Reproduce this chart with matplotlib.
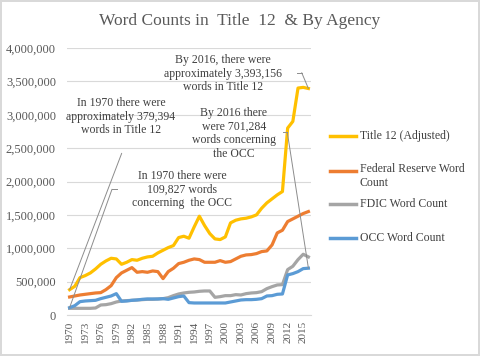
import matplotlib
matplotlib.use('Agg')
import matplotlib.pyplot as plt
from matplotlib.lines import Line2D
from matplotlib.ticker import FuncFormatter

plt.rcParams['font.family'] = 'Liberation Serif'

years = list(range(1970, 2017))
title12 = [379394, 430000, 560000, 590000, 630000, 690000, 760000, 810000, 850000, 840000,
           760000, 790000, 830000, 820000, 850000, 870000, 880000, 930000, 970000, 1010000,
           1040000, 1160000, 1180000, 1150000, 1320000, 1480000, 1340000, 1220000, 1140000, 1130000,
           1170000, 1380000, 1420000, 1440000, 1450000, 1470000, 1500000, 1600000, 1680000, 1740000,
           1800000, 1850000, 2800000, 2900000, 3400000, 3410000, 3393156]
fed = [270000, 285000, 300000, 310000, 320000, 330000, 335000, 380000, 440000, 560000,
       630000, 670000, 710000, 640000, 650000, 640000, 660000, 650000, 545000, 650000,
       700000, 770000, 790000, 820000, 840000, 830000, 790000, 790000, 790000, 815000,
       790000, 800000, 840000, 880000, 900000, 905000, 920000, 950000, 960000, 1050000,
       1230000, 1270000, 1400000, 1440000, 1480000, 1520000, 1550000]
fdic = [100000, 100000, 100000, 100000, 100000, 105000, 150000, 155000, 170000, 195000,
        210000, 215000, 220000, 225000, 230000, 235000, 235000, 240000, 245000, 260000,
        290000, 315000, 330000, 340000, 345000, 355000, 360000, 360000, 265000, 275000,
        290000, 290000, 305000, 300000, 320000, 330000, 335000, 350000, 395000, 425000,
        450000, 455000, 680000, 730000, 830000, 910000, 870000]
occ = [109827, 140000, 200000, 210000, 215000, 220000, 245000, 265000, 285000, 320000,
       205000, 210000, 220000, 225000, 235000, 240000, 240000, 240000, 245000, 235000,
       255000, 275000, 285000, 185000, 180000, 180000, 180000, 180000, 180000, 180000,
       180000, 195000, 210000, 225000, 230000, 230000, 235000, 245000, 285000, 290000,
       310000, 315000, 600000, 620000, 650000, 695000, 701284]

labels = ['Title 12 (Adjusted)', 'Federal Reserve Word\nCount', 'FDIC Word Count', 'OCC Word Count']
colors = ['#FFC000', '#ED7D31', '#A5A5A5', '#5B9BD5']

W, H = 480, 356
def fx(x):
    return x / W
def fy(y):
    return 1 - y / H

fig = plt.figure(figsize=(4.8, 3.56), dpi=100)
fig.patch.set_edgecolor('#D9D9D9')
fig.patch.set_linewidth(1.5)
ax = fig.add_axes([fx(67), fy(315), fx(311) - fx(67), fy(48) - fy(315)])

for vals, col in zip([title12, fed, fdic, occ], colors):
    ax.plot(years, vals, color=col, lw=2.3)

ax.set_xlim(1969.5, 2016.5)
ax.set_ylim(0, 4000000)
ax.set_yticks(range(0, 4000001, 500000))
ax.yaxis.set_major_formatter(FuncFormatter(lambda v, p: '{:,.0f}'.format(v)))
ax.set_xticks(years[::3])
ax.set_xticklabels([str(y) for y in years[::3]], rotation=90)
ax.grid(axis='y', color='#D9D9D9', lw=0.8)
ax.set_axisbelow(True)
for s in ['top', 'right', 'left']:
    ax.spines[s].set_visible(False)
ax.spines['bottom'].set_color('#D9D9D9')
ax.tick_params(axis='y', length=0, pad=8, labelsize=9, labelcolor='#595959')
ax.tick_params(axis='x', length=0, pad=4, labelsize=8, labelcolor='#595959')

fig.text(fx(240), fy(21), 'Word Counts in  Title  12  & By Agency', ha='center', va='center',
         fontsize=12.5, color='#595959')

# callouts
tc = '#404040'
lc = '#8C8C8C'
notes = [
    ('In 1970 there were\napproximately 379,394\nwords in Title 12', 121, 116.5),
    ('In 1970 there were\n109,827 words\nconcerning  the OCC', 182, 189.5),
    ('By 2016, there were\napproximately 3,393,156\nwords in Title 12', 223, 73.5),
    ('By 2016 there\nwere 701,284\nwords concerning\nthe OCC', 234, 133.5),
]
for txt, cx, cy in notes:
    fig.text(fx(cx), fy(cy), txt, ha='center', va='center', fontsize=8.5,
             linespacing=1.15, color=tc)

leaders = [
    (None, (121.7, 153.3), (1970, title12[0])),
    ((116.7, 189.3), (112, 189.3), (1970, occ[0])),
    ((296.7, 72.7), (301.7, 72.7), (2016, title12[-1])),
    ((283.3, 132.3), (287.3, 132.3), (2016, occ[-1])),
]
for start, bend, pt in leaders:
    if start is not None:
        fig.add_artist(Line2D([fx(start[0]), fx(bend[0])], [fy(start[1]), fy(bend[1])],
                              color=lc, lw=0.7))
    ax.annotate('', xy=pt, xycoords='data', xytext=(fx(bend[0]), fy(bend[1])),
                textcoords='figure fraction',
                arrowprops=dict(arrowstyle='-', color=lc, lw=0.7, shrinkA=0, shrinkB=0))

# legend
leg_y = [136, 170.5, 204, 238]
for lab, col, y in zip(labels, colors, leg_y):
    fig.add_artist(Line2D([fx(330), fx(356)], [fy(y), fy(y)], color=col, lw=2.5))
    if '\n' in lab:
        fig.text(fx(360), fy(y - 7), lab, ha='left', va='top', fontsize=8.5,
                 linespacing=1.15, color=tc)
    else:
        fig.text(fx(360), fy(y), lab, ha='left', va='center', fontsize=8.5, color=tc)

fig.savefig('out.png', dpi=100)
